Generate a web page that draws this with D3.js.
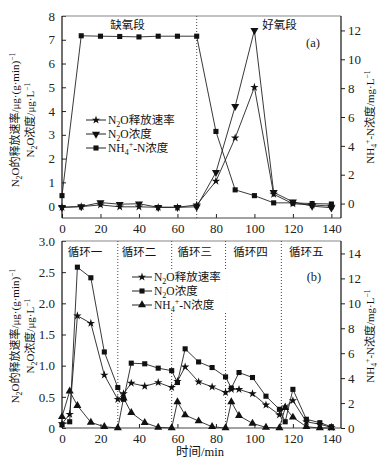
<!DOCTYPE html>
<html><head><meta charset="utf-8">
<script src="https://cdn.jsdelivr.net/npm/d3@7"></script>
<style>body{margin:0;background:#fff}svg{display:block}</style>
</head><body>
<script>
// ---------- data ----------
const timeA = [0,10,20,30,40,50,60,70,80,90,100,110,120,130,140];
const rateA = [-0.05,-0.02,0.05,-0.03,-0.03,-0.05,-0.05,0.05,1.05,2.87,5.0,0.5,0.1,0.05,0.0];
const concA = [-0.05,-0.02,0.15,0.08,0.1,-0.05,-0.05,-0.03,1.42,4.2,7.4,0.58,0.18,0.0,-0.07];
const nh4A  = [0.55,11.63,11.6,11.58,11.55,11.6,11.6,11.6,5.0,0.95,0.55,0.05,0.05,0.0,-0.03];

const timeB = [0,4,8,15,22,29,32,36,43,50,57,60,64,71,78,85,88,92,99,106,113,116,120,127,134,140];
const rateB = [0.07,0.22,1.8,1.68,0.85,0.46,0.55,0.72,0.67,0.73,0.65,0.75,0.98,0.74,0.66,0.57,0.62,0.62,0.55,0.37,0.21,0.34,0.44,0.1,0.06,0.01];
const concB = [0.05,0.1,2.58,2.41,1.22,0.65,0.46,1.04,1.03,0.96,0.92,0.73,1.27,1.06,0.97,0.82,0.64,0.89,0.81,0.51,0.30,0.1,0.62,0.14,0.085,0.02];
const nh4B  = [0.9,2.95,1.8,0.45,0.1,0,2.4,1.23,0.43,0.05,0,2.1,1.04,0.56,0.1,0,2.1,0.99,0.37,0.05,0,1.63,0.86,0.1,0,0];

const xTicks = [0,20,40,60,80,100,120,140];
const yLeftTicksA = [0,1,2,3,4,5,6,7,8];
const yRightTicksA = [0,2,4,6,8,10,12];
const yLeftTicksB = [0,0.5,1.0,1.5,2.0,2.5,3.0];
const yRightTicksB = [0,2,4,6,8,10,12,14];
const phaseA = [{x:70}];
const phaseLabelsA = [{t:"缺氧段", x:34}, {t:"好氧段", x:113}];
const cycleEnds = [29,57,85,114];
const cycleLabels = ["循环一","循环二","循环三","循环四","循环五"];
const cycleLabelX = [12,40,69,98,127];

// ---------- setup ----------
const W=383,H=464;
const svg = d3.select("body").append("svg").attr("width",W).attr("height",H)
  .style("font-family","'Liberation Serif','Times New Roman','Noto Sans CJK SC',serif");
svg.append("rect").attr("width",W).attr("height",H).attr("fill","#fff");

const L=62,R=341;
const x = d3.scaleLinear().domain([0,145]).range([L,R]);

const FS=13;
function rich(g, parts, size){
  const t = g.append("text").attr("font-size",size).attr("fill","#111");
  let cur=0;
  parts.forEach(([s,type])=>{
    let target = type==="sub"? size*0.3 : type==="sup"? -size*0.4 : 0;
    const ts = t.append("tspan").text(s).attr("dy",target-cur);
    if(type) ts.attr("font-size",size*0.7);
    cur=target;
  });
  return t;
}
const sym = {
  star: d3.symbol().type(d3.symbolStar).size(22)(),
  square: d3.symbol().type(d3.symbolSquare).size(26)(),
  tri: d3.symbol().type(d3.symbolTriangle).size(28)()
};

function series(g, xs, ys, yScale, shape, rot){
  const pts = xs.map((t,i)=>[x(t), yScale(ys[i])]);
  g.append("path").attr("d", d3.line()(pts)).attr("fill","none").attr("stroke","#222").attr("stroke-width",0.9);
  g.selectAll(null).data(pts).enter().append("path").attr("d",sym[shape])
    .attr("transform",d=>`translate(${d[0]},${d[1]})${rot?" rotate(180)":""}`).attr("fill","#111");
}

function styleAxis(s){
  s.select(".domain").remove();
  s.selectAll("text").attr("font-size",FS).attr("fill","#222").attr("font-family","'Liberation Serif',serif");
  s.selectAll("line").attr("stroke","#222");
}

function frame(top,bottom,yl,yr,ltv,rtv,lfmt){
  const g = svg.append("g");
  const xa = d3.axisBottom(x).tickValues(xTicks).tickSizeInner(-4).tickSizeOuter(0).tickPadding(6);
  g.append("g").attr("transform",`translate(0,${bottom})`).call(xa).call(styleAxis);
  const la = d3.axisLeft(yl).tickValues(ltv).tickSizeInner(-4).tickSizeOuter(0).tickPadding(7).tickFormat(lfmt);
  g.append("g").attr("transform",`translate(${L},0)`).call(la).call(styleAxis);
  const ra = d3.axisRight(yr).tickValues(rtv).tickSizeInner(4).tickSizeOuter(0).tickPadding(3);
  g.append("g").attr("transform",`translate(${R},0)`).call(ra).call(styleAxis);
  g.append("line").attr("x1",L).attr("x2",R).attr("y1",top).attr("y2",top).attr("stroke","#888").attr("stroke-width",1.2);
  g.append("line").attr("x1",L).attr("x2",R).attr("y1",bottom).attr("y2",bottom).attr("stroke","#444").attr("stroke-width",1);
  g.append("line").attr("x1",L).attr("x2",L).attr("y1",top).attr("y2",bottom).attr("stroke","#111").attr("stroke-width",1.2);
  g.append("line").attr("x1",R).attr("x2",R).attr("y1",top).attr("y2",bottom).attr("stroke","#111").attr("stroke-width",1.2);
  return g;
}

function yTitles(cy, rightCy){
  const g1 = svg.append("g").attr("transform",`translate(19,${cy}) rotate(-90)`);
  rich(g1,[["N",""],["2","sub"],["O的释放速率/μg·(g·min)",""],["−1","sup"]],11).attr("text-anchor","middle");
  const g2 = svg.append("g").attr("transform",`translate(34,${cy}) rotate(-90)`);
  rich(g2,[["N",""],["2","sub"],["O浓度/μg·L",""],["−1","sup"]],11).attr("text-anchor","middle");
  const g3 = svg.append("g").attr("transform",`translate(374,${rightCy}) rotate(-90)`);
  rich(g3,[["NH",""],["4","sub"],["+","sup"],["-N浓度/mg·L",""],["−1","sup"]],11).attr("text-anchor","middle");
}

function legend(x0,y0,dy,items,bg){
  const g = svg.append("g");
  if(bg) g.append("rect").attr("x",x0-4).attr("y",y0-8).attr("width",bg).attr("height",dy*2+16).attr("fill","#fff");
  items.forEach((it,i)=>{
    const yy=y0+i*dy;
    g.append("line").attr("x1",x0).attr("x2",x0+20).attr("y1",yy).attr("y2",yy).attr("stroke","#222");
    g.append("path").attr("d",sym[it.shape]).attr("transform",`translate(${x0+10},${yy})${it.rot?" rotate(180)":""}`).attr("fill","#111");
    const tg = g.append("g").attr("transform",`translate(${x0+22},${yy+4})`);
    rich(tg,it.parts,11.5);
  });
}

// ---------- panel (a) ----------
const topA=16,botA=218;
const yLA = d3.scaleLinear().domain([-0.5,8]).range([botA,topA]);
const yRA = d3.scaleLinear().domain([-1,13]).range([botA,topA]);
frame(topA,botA,yLA,yRA,yLeftTicksA,yRightTicksA,d3.format("d"));
phaseA.forEach(p=>svg.append("line").attr("x1",x(p.x)).attr("x2",x(p.x)).attr("y1",topA).attr("y2",botA)
  .attr("stroke","#444").attr("stroke-width",1).attr("stroke-dasharray","1,2"));
phaseLabelsA.forEach(p=>svg.append("text").attr("x",x(p.x)).attr("y",29).attr("text-anchor","middle").attr("font-size",11.5).attr("fill","#111").text(p.t));
svg.append("text").attr("x",313).attr("y",47).attr("text-anchor","middle").attr("font-size",12.5).attr("fill","#222").text("(a)");
const gA = svg.append("g");
series(gA,timeA,nh4A,yRA,"square");
series(gA,timeA,concA,yLA,"tri",true);
series(gA,timeA,rateA,yLA,"star");
legend(86,120,14,[
  {shape:"star",parts:[["N",""],["2","sub"],["O释放速率",""]]},
  {shape:"tri",rot:true,parts:[["N",""],["2","sub"],["O浓度",""]]},
  {shape:"square",parts:[["NH",""],["4","sub"],["+","sup"],["-N浓度",""]]}
]);
yTitles(120,117);

// ---------- panel (b) ----------
const topB=241,botB=428;
const yLB = d3.scaleLinear().domain([0,3]).range([botB,topB]);
const yRB = d3.scaleLinear().domain([0,15]).range([botB,topB]);
frame(topB,botB,yLB,yRB,yLeftTicksB,yRightTicksB,v=>v===0?"0":d3.format(".1f")(v));
cycleEnds.forEach(c=>svg.append("line").attr("x1",x(c)).attr("x2",x(c)).attr("y1",topB).attr("y2",botB)
  .attr("stroke","#444").attr("stroke-width",1).attr("stroke-dasharray","1,2"));
cycleLabels.forEach((t,i)=>svg.append("text").attr("x",x(cycleLabelX[i])).attr("y",256).attr("text-anchor","middle").attr("font-size",11.5).attr("fill","#111").text(t));
svg.append("text").attr("x",314).attr("y",281).attr("text-anchor","middle").attr("font-size",12.5).attr("fill","#222").text("(b)");
legend(132,277,14,[
  {shape:"star",parts:[["N",""],["2","sub"],["O释放速率",""]]},
  {shape:"square",parts:[["N",""],["2","sub"],["O浓度",""]]},
  {shape:"tri",parts:[["NH",""],["4","sub"],["+","sup"],["-N浓度",""]]}
],98);
const gB = svg.append("g");
series(gB,timeB,nh4B,yRB,"tri");
series(gB,timeB,concB,yLB,"square");
series(gB,timeB,rateB,yLB,"star");
yTitles(336,336);
svg.append("text").attr("x",200).attr("y",456).attr("text-anchor","middle").attr("font-size",12.5).attr("fill","#111").text("时间/min");
</script>
</body></html>
